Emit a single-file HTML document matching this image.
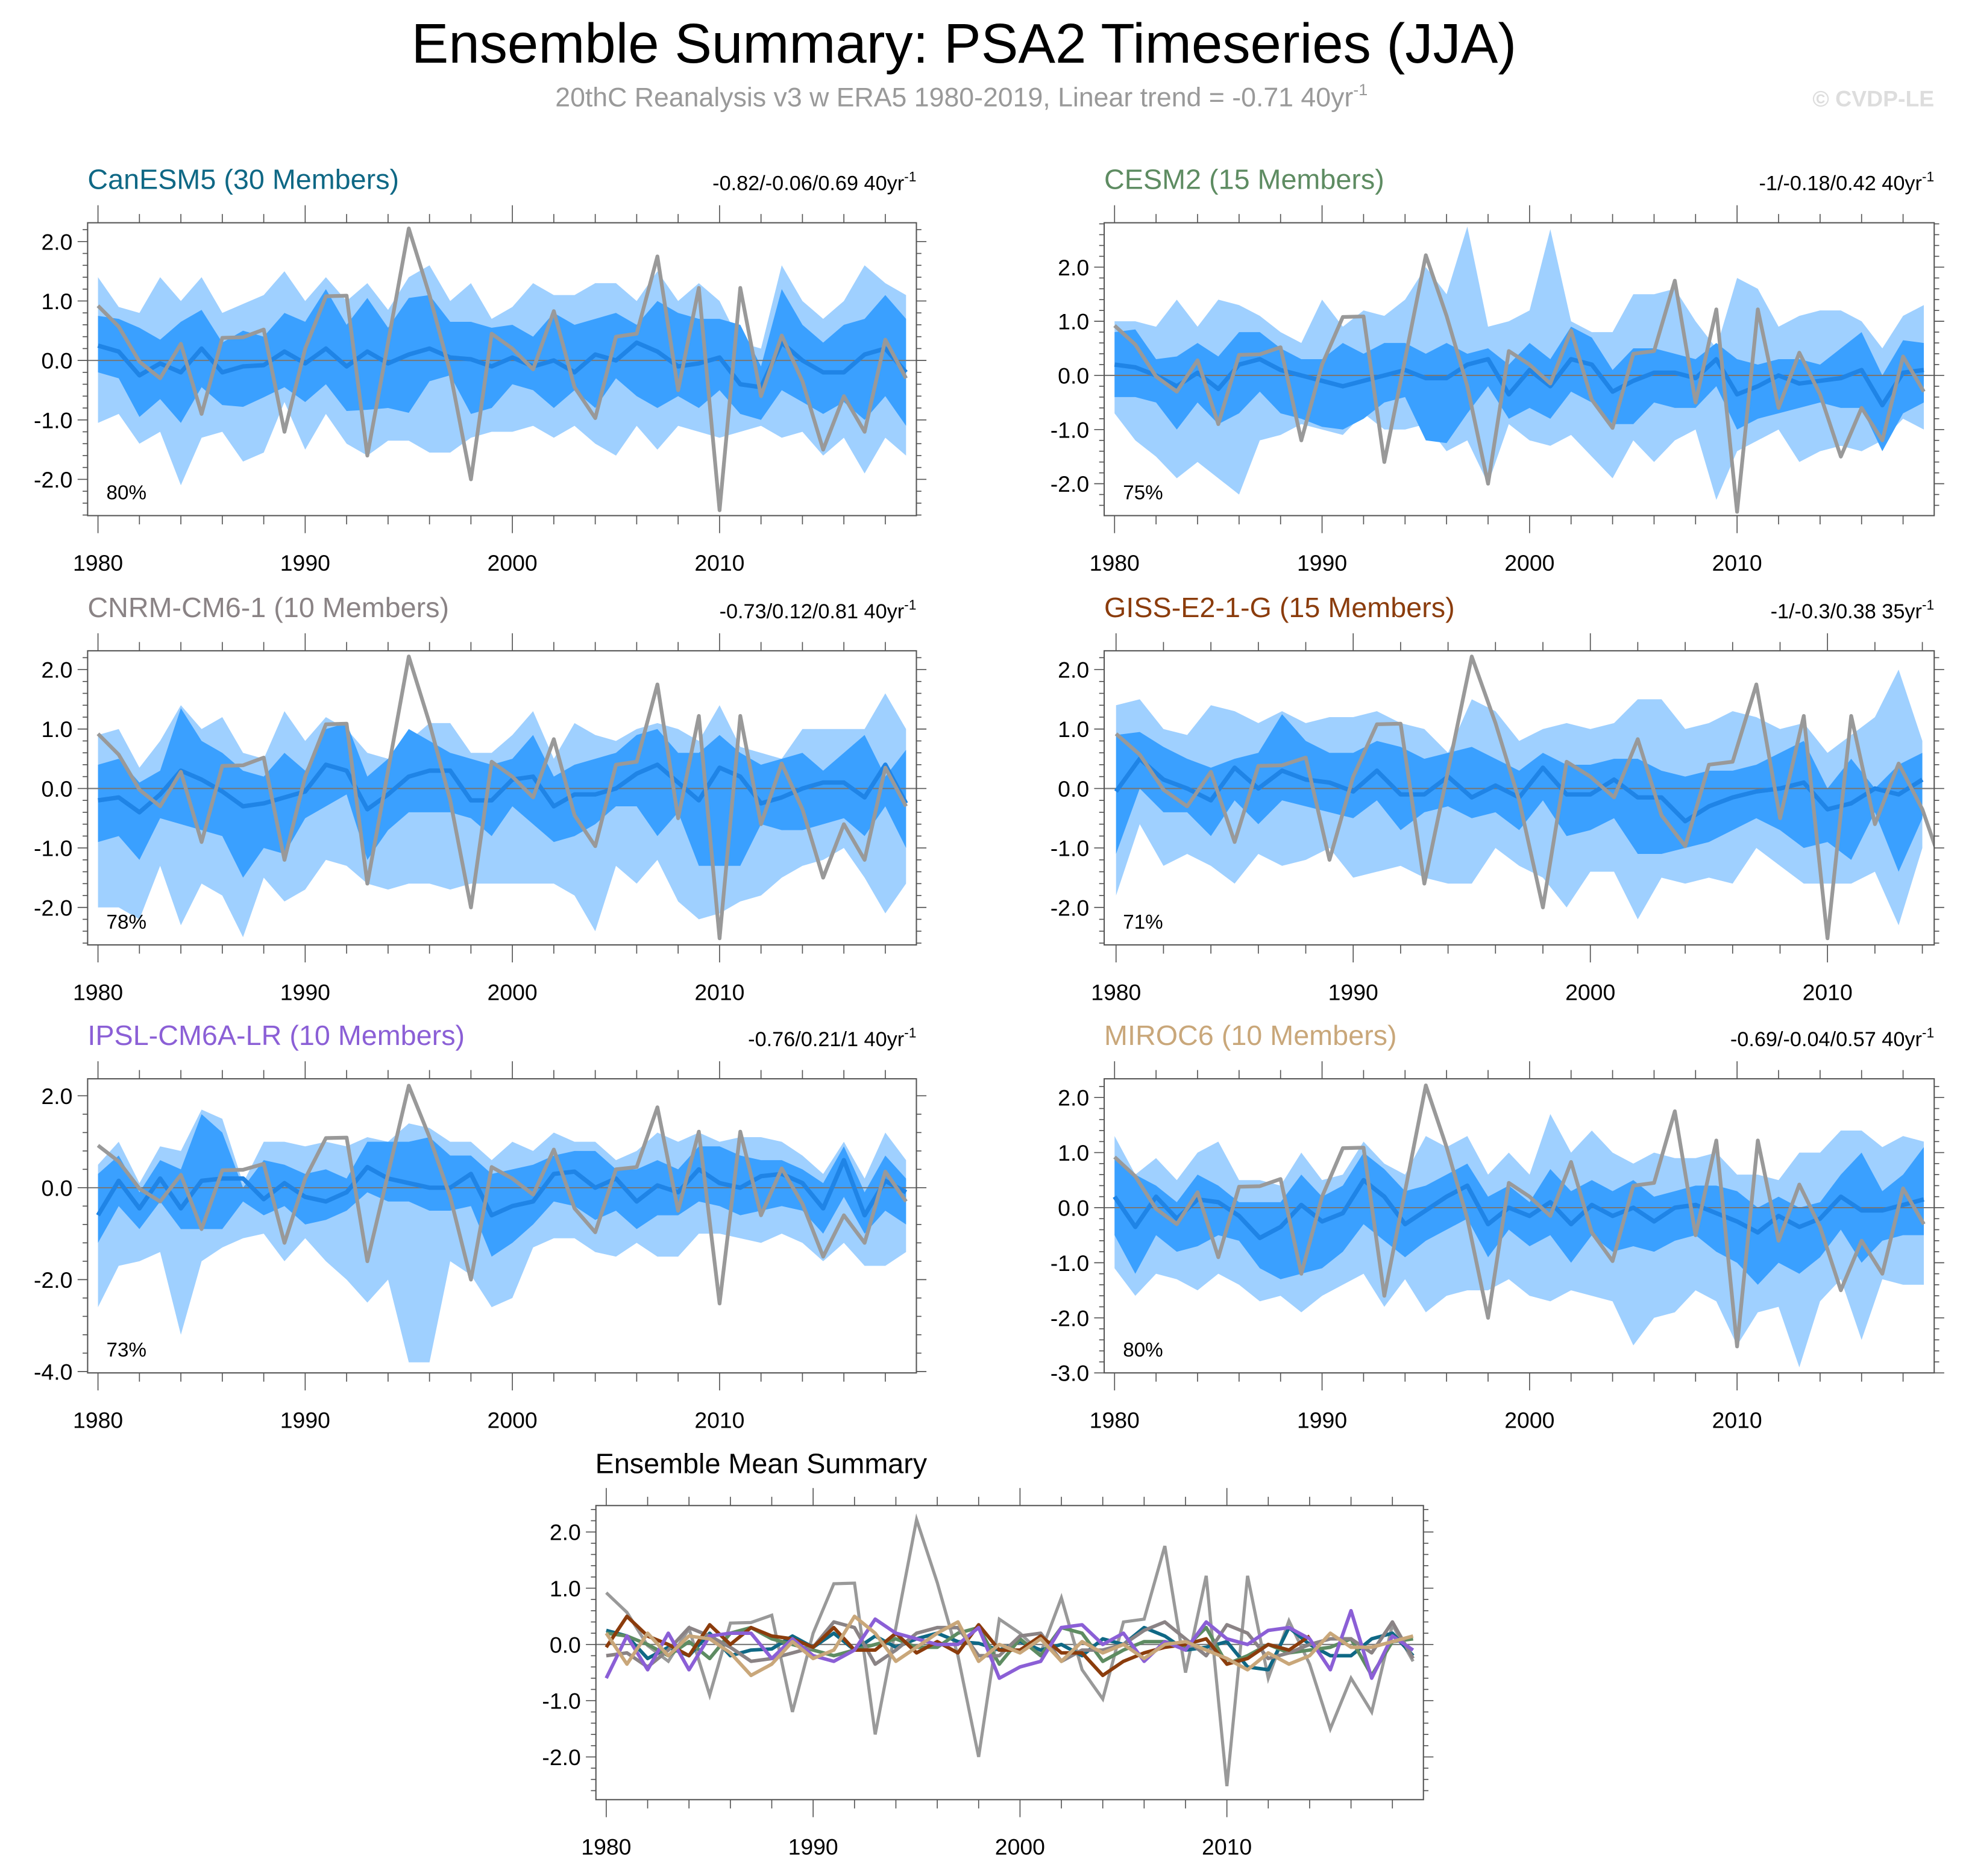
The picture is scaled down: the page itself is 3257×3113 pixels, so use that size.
<!DOCTYPE html>
<html><head><meta charset="utf-8">
<style>
html,body{margin:0;padding:0;background:#fff;}
svg{display:block;font-family:"Liberation Sans",sans-serif;}
</style></head>
<body>
<svg id="chart" width="3257" height="3113" viewBox="0 0 1568 1499" preserveAspectRatio="none" xmlns="http://www.w3.org/2000/svg">
<text x="770" y="50" font-size="44.5" text-anchor="middle" fill="#000">Ensemble Summary: PSA2 Timeseries (JJA)</text>
<text x="768" y="85" font-size="21.5" text-anchor="middle" fill="#999">20thC Reanalysis v3 w ERA5 1980-2019, Linear trend = -0.71 40yr<tspan dy="-9" font-size="13">-1</tspan></text>
<text x="1545" y="85" font-size="18" font-weight="bold" text-anchor="end" fill="#ddd">© CVDP-LE</text>
<g id="plots"></g>
</svg>
<script>
const years = [];
for (let y = 1980; y <= 2019; y++) years.push(y);
const obs = [0.92,0.57,-0.02,-0.3,0.28,-0.9,0.38,0.39,0.52,-1.2,0.2,1.08,1.09,-1.6,0.3,2.22,1.1,-0.2,-2.0,0.45,0.2,-0.15,0.83,-0.45,-0.97,0.4,0.45,1.75,-0.5,1.22,-2.52,1.22,-0.6,0.42,-0.35,-1.5,-0.6,-1.2,0.35,-0.3];

const canMean=[0.25,0.15,-0.25,-0.05,-0.2,0.2,-0.2,-0.1,-0.08,0.15,-0.05,0.2,-0.1,0.15,-0.05,0.1,0.2,0.05,0.02,-0.1,0.05,-0.1,0.0,-0.2,0.1,0.0,0.3,0.15,-0.1,-0.05,0.05,-0.4,-0.45,0.3,0.0,-0.2,-0.2,0.1,0.2,-0.2];
const canOutHi=[1.4,0.9,0.8,1.4,1.0,1.4,0.8,0.95,1.1,1.5,1.0,1.4,1.0,1.3,0.85,1.4,1.6,1.0,1.3,0.7,0.9,1.3,1.1,1.1,1.3,1.3,1.0,1.5,1.0,1.3,1.0,0.3,0.2,1.6,1.0,0.7,1.0,1.6,1.3,1.1];
const canOutLo=[-1.05,-0.9,-1.4,-1.2,-2.1,-1.3,-1.2,-1.7,-1.55,-0.7,-1.5,-0.9,-1.4,-1.6,-1.35,-1.35,-1.55,-1.55,-1.3,-1.2,-1.2,-1.1,-1.3,-1.1,-1.4,-1.6,-1.1,-1.5,-1.1,-1.2,-1.3,-1.2,-1.1,-1.3,-1.2,-1.6,-1.3,-1.9,-1.3,-1.6];
const canInHi=[0.75,0.7,0.55,0.35,0.65,0.85,0.3,0.5,0.4,0.8,0.65,1.2,0.6,1.05,0.55,1.05,1.1,0.65,0.65,0.55,0.6,0.4,0.8,0.6,0.7,0.8,0.6,1.0,0.8,0.7,0.7,0.6,-0.1,1.2,0.6,0.3,0.6,0.7,1.1,0.7];
const canInLo=[-0.2,-0.3,-0.95,-0.65,-1.05,-0.45,-0.75,-0.78,-0.62,-0.45,-0.7,-0.4,-0.85,-0.83,-0.8,-0.88,-0.35,-0.25,-0.9,-0.8,-0.4,-0.5,-0.8,-0.5,-0.8,-0.3,-0.6,-0.8,-0.6,-0.8,-0.5,-0.9,-1.0,-0.5,-0.7,-0.9,-0.7,-1.0,-0.6,-1.1];

const cesMean=[0.2,0.15,0.0,-0.2,0.05,-0.25,0.2,0.3,0.1,0.0,-0.1,-0.2,-0.1,0.0,0.1,-0.05,-0.05,0.2,0.3,-0.35,0.1,-0.2,0.3,0.2,-0.3,-0.1,0.05,0.05,-0.05,0.3,-0.35,-0.2,0.0,-0.15,-0.1,-0.05,0.1,-0.55,0.05,0.1];
const cesOutHi=[1.0,1.0,0.9,1.4,0.9,1.4,1.3,1.1,0.8,0.6,1.4,0.9,1.2,1.1,1.4,2.0,1.5,2.75,0.9,1.0,1.2,2.7,1.0,0.8,0.8,1.5,1.5,1.6,1.0,0.5,1.8,1.6,0.9,1.1,1.2,1.2,1.0,0.5,1.1,1.3];
const cesOutLo=[-0.7,-1.2,-1.5,-1.9,-1.6,-1.9,-2.2,-1.2,-1.1,-0.9,-1.0,-1.1,-0.7,-1.0,-1.0,-0.9,-1.4,-1.2,-2.0,-0.9,-1.2,-1.3,-1.1,-1.5,-1.9,-1.2,-1.6,-1.2,-1.0,-2.3,-1.4,-1.2,-1.0,-1.6,-1.4,-1.3,-1.4,-1.2,-0.8,-1.0];
const cesInHi=[0.8,0.85,0.3,0.35,0.6,0.35,0.8,0.8,0.5,0.3,0.3,0.6,0.4,0.6,0.6,0.4,0.6,0.4,0.5,0.2,0.6,0.3,0.9,0.7,0.1,0.5,0.5,0.4,0.3,0.6,0.3,0.2,0.3,0.3,0.2,0.5,0.8,0.0,0.65,0.6];
const cesInLo=[-0.4,-0.4,-0.5,-1.0,-0.5,-0.9,-0.7,-0.3,-0.7,-0.8,-0.95,-1.0,-0.8,-0.5,-0.4,-1.2,-1.25,-0.7,-0.2,-0.8,-0.6,-0.8,-0.3,-0.5,-0.9,-0.9,-0.5,-0.6,-0.6,-0.2,-1.0,-0.8,-0.7,-0.6,-0.5,-0.6,-0.6,-1.4,-0.7,-0.5];

const cnrMean=[-0.2,-0.15,-0.4,-0.1,0.3,0.15,-0.05,-0.3,-0.25,-0.15,-0.05,0.4,0.3,-0.35,-0.1,0.2,0.3,0.3,-0.2,-0.2,0.15,0.2,-0.3,-0.1,-0.1,0.0,0.25,0.4,0.1,-0.2,0.35,0.2,-0.25,-0.15,0.0,0.1,0.1,-0.15,0.4,-0.25];
const cnrOutHi=[0.9,1.0,0.35,0.8,1.4,1.0,1.2,0.6,0.5,1.3,0.8,1.2,1.0,0.6,0.5,0.8,1.1,1.1,0.6,0.6,0.9,1.3,0.5,1.1,0.9,0.8,1.0,1.1,1.0,0.8,1.4,0.7,0.6,0.5,1.0,1.0,1.0,1.0,1.6,1.0];
const cnrOutLo=[-2.0,-2.0,-2.2,-1.3,-2.3,-1.6,-1.8,-2.5,-1.5,-1.9,-1.7,-1.2,-1.3,-1.6,-1.7,-1.6,-1.6,-1.7,-1.6,-1.6,-1.6,-1.6,-1.6,-1.8,-2.4,-1.3,-1.6,-1.2,-1.9,-2.2,-2.1,-1.9,-1.8,-1.5,-1.3,-1.2,-1.0,-1.5,-2.1,-1.6];
const cnrInHi=[0.4,0.5,0.1,0.3,1.35,0.8,0.6,0.3,0.2,0.6,0.3,1.0,1.1,0.2,0.5,1.0,0.8,0.6,0.5,0.4,0.5,0.9,0.2,0.4,0.5,0.6,0.9,1.0,0.6,0.6,0.9,0.6,0.4,0.5,0.6,0.3,0.6,0.9,0.2,0.65];
const cnrInLo=[-0.9,-0.8,-1.2,-0.5,-0.6,-0.7,-0.8,-1.5,-1.0,-1.1,-0.5,-0.3,-0.1,-1.2,-0.7,-0.4,-0.4,-0.4,-0.5,-0.8,-0.3,-0.6,-0.9,-0.8,-0.6,-0.3,-0.3,-0.8,-0.4,-1.3,-1.3,-1.3,-0.6,-0.7,-0.7,-0.6,-0.5,-0.8,-0.3,-1.0];

const gisMean=[-0.05,0.5,0.15,0.0,-0.2,0.35,0.0,0.3,0.15,0.1,-0.05,0.3,-0.1,-0.1,0.2,-0.15,0.05,-0.15,0.35,-0.1,-0.1,0.15,-0.15,-0.15,-0.55,-0.3,-0.15,-0.05,0.0,0.1,-0.35,-0.25,0.0,-0.1,0.15];
const gisOutHi=[1.4,1.5,1.0,0.9,1.4,1.3,1.1,1.3,1.1,1.2,1.2,1.3,1.1,1.0,0.6,1.5,1.3,0.8,1.0,1.1,1.0,1.1,1.5,1.5,1.0,1.1,1.3,1.2,1.0,1.1,0.6,0.9,1.2,2.0,0.8];
const gisOutLo=[-1.8,-0.6,-1.3,-1.1,-1.3,-1.6,-1.1,-1.3,-1.2,-1.0,-1.5,-1.4,-1.3,-1.5,-1.6,-1.6,-1.0,-1.3,-1.5,-2.0,-1.4,-1.4,-2.2,-1.5,-1.6,-1.5,-1.6,-1.0,-1.3,-1.6,-1.6,-1.6,-1.4,-2.3,-1.0];
const gisInHi=[0.9,0.95,0.7,0.5,0.35,0.5,0.6,1.25,0.8,0.6,0.6,0.8,0.7,0.5,0.6,0.7,0.5,0.3,0.6,0.4,0.4,0.5,0.5,0.3,0.2,0.3,0.3,0.4,0.6,0.8,0.0,0.5,0.0,0.4,0.6];
const gisInLo=[-1.1,0.0,-0.4,-0.4,-0.8,-0.2,-0.6,-0.2,-0.3,-0.4,-0.5,-0.2,-0.7,-0.4,-0.3,-0.5,-0.4,-0.7,-0.2,-0.8,-0.7,-0.5,-1.1,-1.1,-1.0,-0.9,-0.7,-0.5,-0.7,-1.0,-0.9,-1.2,-0.4,-1.4,-0.5];

const ipsMean=[-0.6,0.15,-0.45,0.2,-0.45,0.15,0.2,0.2,-0.25,0.1,-0.2,-0.3,-0.1,0.45,0.2,0.1,0.0,0.0,0.3,-0.6,-0.4,-0.3,0.3,0.35,0.0,0.2,-0.3,0.05,-0.1,0.4,0.1,0.0,0.25,0.3,0.1,-0.45,0.6,-0.6,0.15,-0.1];
const ipsOutHi=[0.5,1.0,0.1,0.9,0.8,1.7,1.5,0.1,1.0,1.0,0.9,1.0,0.9,1.1,1.0,1.4,1.3,1.0,1.0,0.6,1.0,0.8,1.2,1.0,1.0,0.6,0.8,1.2,1.0,1.2,1.0,1.1,1.1,1.0,0.7,0.3,1.0,0.2,1.2,0.6];
const ipsOutLo=[-2.6,-1.7,-1.6,-1.4,-3.2,-1.6,-1.3,-1.1,-1.0,-1.6,-1.1,-1.6,-2.0,-2.5,-2.0,-3.8,-3.8,-1.6,-1.9,-2.6,-2.4,-1.3,-1.1,-1.1,-1.4,-1.5,-1.2,-1.5,-1.5,-1.0,-1.0,-1.1,-1.2,-1.0,-1.2,-1.6,-1.2,-1.7,-1.7,-1.4];
const ipsInHi=[0.3,0.7,-0.1,0.6,0.4,1.6,1.2,0.0,0.6,0.5,0.3,0.4,0.2,1.0,1.0,1.0,1.1,0.7,0.7,0.3,0.4,0.5,0.7,0.8,0.8,0.4,0.4,0.6,0.4,0.9,0.9,0.7,0.6,0.6,0.4,0.1,0.9,-0.1,0.7,0.2];
const ipsInLo=[-1.2,-0.4,-0.9,-0.3,-0.9,-0.9,-0.9,-0.3,-0.6,-0.4,-0.8,-0.7,-0.5,-0.1,-0.3,-0.3,-0.5,-0.5,-0.4,-1.5,-1.2,-0.8,-0.3,-0.4,-0.7,-0.5,-0.9,-0.6,-0.6,-0.3,-0.4,-0.6,-0.5,-0.4,-0.5,-1.0,-0.2,-1.0,-0.5,-0.8];

const mirMean=[0.2,-0.35,0.2,-0.2,0.15,0.1,-0.15,-0.55,-0.35,0.05,-0.25,-0.1,0.5,0.2,-0.3,-0.05,0.2,0.4,-0.3,0.0,-0.15,0.1,-0.3,0.05,-0.15,0.0,-0.25,0.0,0.05,-0.1,-0.25,-0.45,-0.15,-0.35,-0.2,0.2,-0.05,-0.05,0.05,0.15];
const mirOutHi=[1.3,0.6,0.9,0.5,1.0,1.2,0.5,0.5,0.4,1.0,0.5,0.6,1.2,0.8,0.6,1.3,1.1,1.3,0.6,1.0,0.6,1.7,1.0,1.4,1.0,0.8,1.0,0.9,0.9,1.0,0.6,0.6,0.5,1.0,1.0,1.4,1.4,1.1,1.3,1.2];
const mirOutLo=[-1.1,-1.6,-1.2,-1.3,-1.5,-1.2,-1.4,-1.7,-1.6,-1.9,-1.6,-1.4,-1.2,-1.8,-1.3,-1.9,-1.6,-1.5,-1.5,-1.3,-1.6,-1.7,-1.5,-1.6,-1.7,-2.5,-2.0,-1.9,-1.5,-1.7,-2.5,-1.9,-1.8,-2.9,-1.7,-1.3,-2.4,-1.3,-1.4,-1.4];
const mirInHi=[0.9,0.6,0.4,0.1,0.6,0.4,0.1,0.1,0.1,0.6,0.2,0.4,1.0,0.7,0.3,0.4,0.6,0.8,0.2,0.4,0.1,0.7,0.3,0.5,0.3,0.5,0.2,0.3,0.4,0.4,0.3,0.0,0.2,0.0,0.1,0.6,1.0,0.3,0.6,1.1];
const mirInLo=[-0.5,-1.2,-0.5,-0.8,-0.7,-0.5,-0.6,-1.1,-1.3,-1.2,-1.1,-0.8,-0.3,-0.6,-0.9,-0.6,-0.4,-0.2,-0.9,-0.4,-0.7,-0.5,-1.0,-0.5,-0.8,-0.7,-0.8,-0.6,-0.5,-0.8,-1.0,-1.4,-1.0,-1.2,-0.9,-0.4,-1.0,-0.6,-0.5,-0.5];

const modelNames=["CanESM5 (30 Members)","CESM2 (15 Members)","CNRM-CM6-1 (10 Members)","GISS-E2-1-G (15 Members)","IPSL-CM6A-LR (10 Members)","MIROC6 (10 Members)"];
const trendLabels=["-0.82/-0.06/0.69 40yr","-1/-0.18/0.42 40yr","-0.73/0.12/0.81 40yr","-1/-0.3/0.38 35yr","-0.76/0.21/1 40yr","-0.69/-0.04/0.57 40yr"];
const pctLabels=["80%","75%","78%","71%","73%","80%"];
const yTickLabels=[["2.0","1.0","0.0","-1.0","-2.0"],["2.0","1.0","0.0","-1.0","-2.0"],["2.0","1.0","0.0","-1.0","-2.0"],["2.0","1.0","0.0","-1.0","-2.0"],["2.0","0.0","-2.0","-4.0"],["2.0","1.0","0.0","-1.0","-2.0","-3.0"]];
const xTickLabels=["1980","1990","2000","2010"];
const summaryYTickLabels=["2.0","1.0","0.0","-1.0","-2.0"];

const NS="http://www.w3.org/2000/svg";
const root=document.getElementById('plots');
function mk(tag,attrs,parent){const e=document.createElementNS(NS,tag);for(const k in attrs)e.setAttribute(k,attrs[k]);(parent||root).appendChild(e);return e;}
const colors=["#0f6885","#5e8c62","#8a8385","#8b3c0c","#8b5fd6","#c9a77a"];

const panels=[
 {x0:70,x1:732,y0:178,y1:412,ymin:-2.61,ymax:2.316,nyr:40,minor:0.2,d:[canMean,canOutHi,canOutLo,canInHi,canInLo]},
 {x0:882,x1:1545,y0:178,y1:412,ymin:-2.59,ymax:2.82,nyr:40,minor:0.2,d:[cesMean,cesOutHi,cesOutLo,cesInHi,cesInLo]},
 {x0:70,x1:732,y0:520,y1:755,ymin:-2.63,ymax:2.316,nyr:40,minor:0.2,d:[cnrMean,cnrOutHi,cnrOutLo,cnrInHi,cnrInLo]},
 {x0:882,x1:1545,y0:520,y1:755,ymin:-2.63,ymax:2.316,nyr:35,minor:0.2,d:[gisMean,gisOutHi,gisOutLo,gisInHi,gisInLo]},
 {x0:70,x1:732,y0:862,y1:1097,ymin:-4.03,ymax:2.37,nyr:40,minor:0.4,d:[ipsMean,ipsOutHi,ipsOutLo,ipsInHi,ipsInLo]},
 {x0:882,x1:1545,y0:862,y1:1097,ymin:-3.0,ymax:2.34,nyr:40,minor:0.2,d:[mirMean,mirOutHi,mirOutLo,mirInHi,mirInLo]}
];

function axes(p){
  const xs=y=>p.x0+(y-1979.5)*(p.x1-p.x0)/p.nyr;
  const ys=v=>p.y1-(v-p.ymin)*(p.y1-p.y0)/(p.ymax-p.ymin);
  return {xs,ys};
}
function drawFrame(p,g,xs,ys,yLabels,yStep){
  const tk=mk('g',{stroke:'#555','stroke-width':0.8},g);
  
  
  const first=Math.ceil(p.ymin/p.minor-1e-6);
  for(let i=first;i*p.minor<=p.ymax+1e-6;i++){
    const v=i*p.minor, yy=ys(v);
    const major=Math.abs(v/yStep-Math.round(v/yStep))<1e-6;
    const L=major?8:4;
    mk('line',{x1:p.x0-L,x2:p.x0,y1:yy,y2:yy},tk);
    mk('line',{x1:p.x1,x2:p.x1+L,y1:yy,y2:yy},tk);
  }
  for(let yr=1980;yr<1980+p.nyr;yr+=2){
    const L=(yr%10===0)?14:7, xx=xs(yr);
    mk('line',{x1:xx,x2:xx,y1:p.y0-L,y2:p.y0},tk);
    mk('line',{x1:xx,x2:xx,y1:p.y1,y2:p.y1+L},tk);
  }
  yLabels.forEach(s=>{
    const t=mk('text',{x:p.x0-12,y:ys(parseFloat(s))+6.5,'font-size':18,'text-anchor':'end',fill:'#000'},g);
    
    
    t.textContent=s;
  });
  xTickLabels.forEach(s=>{
    const t=mk('text',{x:xs(parseFloat(s)),y:p.y1+44,'font-size':18,'text-anchor':'middle',fill:'#000'},g);
    
    
    t.textContent=s;
  });
}

panels.forEach((p,pi)=>{
  const g=mk('g',{});
  
  
  const {xs,ys}=axes(p);
  const cid='clip'+pi;
  const cp=mk('clipPath',{id:cid},g);mk('rect',{x:p.x0,y:p.y0,width:p.x1-p.x0,height:p.y1-p.y0},cp);
  const [mean,oh,ol,ih,il]=p.d;
  const n=mean.length;
  const band=(hi,lo,fill,name)=>{
    let pts=[];for(let i=0;i<n;i++)pts.push(xs(years[i])+','+ys(hi[i]));
    for(let i=n-1;i>=0;i--)pts.push(xs(years[i])+','+ys(lo[i]));
    const e=mk('polygon',{points:pts.join(' '),fill:fill,'clip-path':'url(#'+cid+')'},g);
    
    
  };
  band(oh,ol,'#9fd0ff','outer-spread-band');
  band(ih,il,'#3aa0ff','inner-spread-band');
  const z=mk('line',{x1:p.x0,x2:p.x1,y1:ys(0),y2:ys(0),stroke:'#777','stroke-width':1},g);
  
  
  const ml=mk('polyline',{points:mean.map((v,i)=>xs(years[i])+','+ys(v)).join(' '),fill:'none',stroke:'#1f84e6','stroke-width':3.5,'stroke-linejoin':'round','clip-path':'url(#'+cid+')'},g);
  
  
  const ol2=mk('polyline',{points:obs.map((v,i)=>xs(years[i])+','+ys(v)).join(' '),fill:'none',stroke:'#999','stroke-width':3,'stroke-linejoin':'round','clip-path':'url(#'+cid+')'},g);
  
  
  const fr=mk('rect',{x:p.x0,y:p.y0,width:p.x1-p.x0,height:p.y1-p.y0,fill:'none',stroke:'#555','stroke-width':1},g);
  
  
  drawFrame(p,g,xs,ys,yTickLabels[pi],pi===4?2:1);
  const t=mk('text',{x:p.x0,y:p.y0-27,'font-size':22.5,fill:colors[pi]},g);
  
  
  t.textContent=modelNames[pi];
  const tr=mk('text',{x:p.x1,y:p.y0-26,'font-size':16.5,'text-anchor':'end',fill:'#000'},g);
  
  
  tr.textContent=trendLabels[pi];
  const sup=mk('tspan',{dy:-7,'font-size':11},tr);sup.textContent='-1';
  const pc=mk('text',{x:p.x0+15,y:p.y1-13,'font-size':16,fill:'#000'},g);
  
  
  pc.textContent=pctLabels[pi];
});

(function(){
  const p={x0:476,x1:1137,y0:1203,y1:1438,ymin:-2.76,ymax:2.47,nyr:40,minor:0.2};
  const g=mk('g',{});
  
  
  const {xs,ys}=axes(p);
  const cp=mk('clipPath',{id:'clipS'},g);
  mk('rect',{x:p.x0,y:p.y0,width:p.x1-p.x0,height:p.y1-p.y0},cp);
  const z=mk('line',{x1:p.x0,x2:p.x1,y1:ys(0),y2:ys(0),stroke:'#777','stroke-width':1},g);
  
  
  const ol=mk('polyline',{points:obs.map((v,i)=>xs(years[i])+','+ys(v)).join(' '),fill:'none',stroke:'#999','stroke-width':2.5,'clip-path':'url(#clipS)'},g);
  
  
  panels.forEach((pp,pi)=>{
    const m=pp.d[0];
    const l=mk('polyline',{points:m.map((v,i)=>xs(years[i])+','+ys(v)).join(' '),fill:'none',stroke:colors[pi],'stroke-width':2.8,'stroke-linejoin':'round','clip-path':'url(#clipS)'},g);
    
    
  });
  const fr=mk('rect',{x:p.x0,y:p.y0,width:p.x1-p.x0,height:p.y1-p.y0,fill:'none',stroke:'#555','stroke-width':1},g);
  
  
  drawFrame(p,g,xs,ys,summaryYTickLabels,1);
  const t=mk('text',{x:608,y:1177,'font-size':22.5,'text-anchor':'middle',fill:'#000'},g);
  
  
  t.textContent='Ensemble Mean Summary';
})();
</script>
</body></html>
